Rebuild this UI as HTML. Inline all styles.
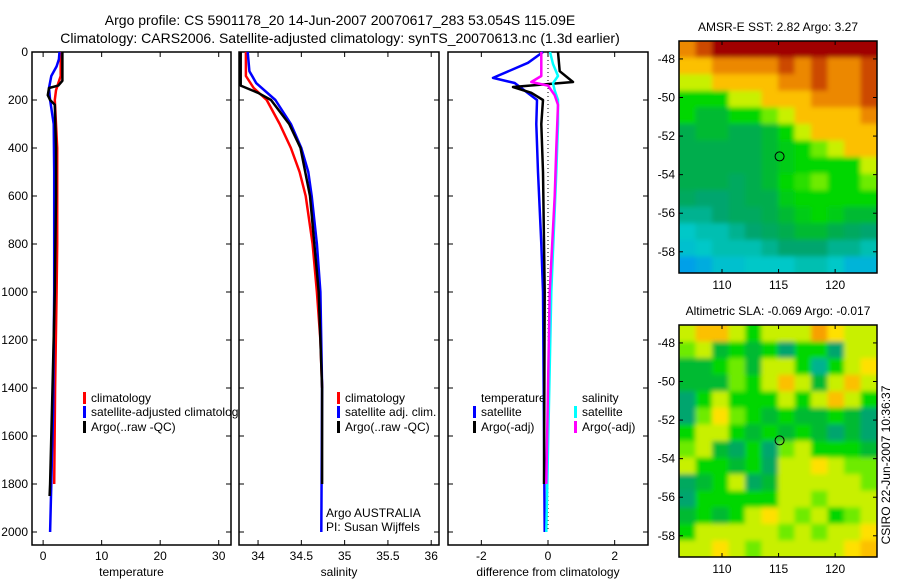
<!DOCTYPE html>
<html><head><meta charset="utf-8"><style>
body{margin:0;background:#fff;width:900px;height:580px;overflow:hidden}
svg{font-family:"Liberation Sans",sans-serif}
</style></head><body>
<svg id="s" width="900" height="580" xmlns="http://www.w3.org/2000/svg">
<defs>
<filter id="bl" filterUnits="userSpaceOnUse" x="670" y="30" width="220" height="540"><feGaussianBlur stdDeviation="2.5"/></filter>
<clipPath id="c1"><rect x="679" y="41" width="198" height="232"/></clipPath>
<clipPath id="c2"><rect x="679" y="325" width="198" height="232"/></clipPath>
</defs>
<text x="340" y="25" font-size="14" text-anchor="middle">Argo profile: CS 5901178_20 14-Jun-2007 20070617_283 53.054S 115.09E</text>
<text x="340" y="43" font-size="14" text-anchor="middle">Climatology: CARS2006. Satellite-adjusted climatology: synTS_20070613.nc (1.3d earlier)</text>
</svg>
<script>
// ---- data ----
const depthTicks=[0,200,400,600,800,1000,1200,1400,1600,1800,2000];
const tempTicks=[0,10,20,30];
const salTicks=[34,34.5,35,35.5,36];
const diffTicks=[-2,0,2];
const tClimD=[0,100,130,160,200,300,400,600,800,1000,1400,1800];
const tClimV=[3.0,3.0,2.6,2.2,2.0,2.2,2.4,2.4,2.4,2.3,2.05,1.9];
const tSatD=[0,30,60,100,150,200,300,500,1000,1500,2000];
const tSatV=[2.8,2.7,2.3,1.4,1.0,1.2,1.8,1.9,1.9,1.7,1.2];
const tArgoD=[0,120,140,150,180,200,220,400,600,1000,1400,1800,1850];
const tArgoV=[3.3,3.3,2.6,1.0,0.8,1.2,2.0,2.2,2.2,2.0,1.6,1.2,1.1];
const sClimD=[0,100,150,200,300,400,500,600,800,1000,1200,1400];
const sClimV=[33.86,33.86,33.95,34.1,34.25,34.38,34.48,34.55,34.63,34.68,34.72,34.74];
const sSatD=[0,80,130,200,300,400,500,600,800,1000,1400,2000];
const sSatV=[33.88,33.9,33.98,34.2,34.38,34.5,34.58,34.62,34.68,34.72,34.74,34.73];
const sArgoD=[0,140,170,200,300,400,600,1000,1400,1800];
const sArgoV=[33.80,33.80,34.0,34.15,34.36,34.49,34.6,34.7,34.74,34.74];
const dTSatD=[0,45,108,129,200,300,500,800,1000,2000];
const dTSatV=[-0.15,-0.6,-1.65,-1.0,-0.33,-0.35,-0.3,-0.2,-0.15,-0.1];
const dTArgoD=[0,80,125,146,170,200,300,500,1000,1800];
const dTArgoV=[0.3,0.35,0.75,-1.05,-0.5,-0.15,-0.2,-0.15,-0.1,-0.12];
const dSSatD=[0,50,100,130,160,200,300,500,1000,2000];
const dSSatV=[0.06,0.15,0.3,0.15,0.2,0.3,0.3,0.25,0.1,-0.05];
const dSArgoD=[0,100,125,140,180,220,400,600,1000,1400,1800];
const dSArgoV=[-0.2,-0.2,-0.5,0.0,0.2,0.3,0.25,0.2,0.05,0.0,-0.05];
const lonTicks=[110,115,120];
const latTicks=[-48,-50,-52,-54,-56,-58];
const argoLon=115.09, argoLat=-53.054;
const sst=[
[8,9,10,10,10,10,10,10,10,10,10,10],
[7,7,8,8,8,8,9,8,9,8,8,9],
[6,6,7,7,7,7,8,8,9,8,8,9],
[5,5,5,6,6,7,7,7,8,8,8,9],
[5,4.5,4.5,5,5,5.5,6,7,7,7,7,8],
[4.2,4.5,4.5,4.2,4.2,4.5,5,6,7,7,7,7],
[4.2,4.2,4.2,4.2,4.2,4.5,4.8,5,5.5,6,7,7],
[4.2,4.2,4.2,4.2,4.2,4.5,4.8,5,5,5,5,6],
[4.2,4.2,4.2,4,4.2,4.5,5,5.2,5.5,5,5,5.5],
[4,3.8,3.8,4,4.2,4.2,4.8,5,5,5,5,5],
[3.5,3.5,3.8,4,4,4.2,4.5,4.8,5,4.8,4.5,4.5],
[3,3.2,3.2,3.5,3.8,4,4.2,4.5,4.5,4.2,4,3.8],
[2.8,3,3.2,3.2,3.2,3.5,3.8,3.8,3.8,3.5,3.5,3.2],
[2,2.3,2.8,2.8,3,3,3,3.2,3.2,3,2.5,2.5]];
const sla=[
[6,7,7,6,5,6,6,6,7.5,6.5,6,6],
[5.5,6,4.5,5,4.5,5,3.8,5,5,3.8,6,6],
[4.5,4.5,5,5.5,4.5,6,6,5,3.5,5,6,6.5],
[4.5,4.5,4.5,5.5,5,6,7,6,4.5,6,7,6],
[3.8,5,6,5,5,5,6,5,6,7,6,5],
[3.8,5.5,6.5,5.5,5,4.5,5,4.5,4.5,5,4.5,3.8],
[5,6,6,5,4.5,5,4.5,5,4.5,3.8,4.5,3.8],
[5.5,6,4.5,4,5,3.8,5.5,6,5,5,5,4.5],
[6,5,5,4.5,5,4,6,6,6.5,6,5.5,5.5],
[4,4.5,5,6,4,4.5,6,6,6,6,6,5.5],
[3.8,5,5,5,5,5,6,6,5.5,6,6,6],
[4.5,5,4.5,5,6,6.5,6,5.5,6,5,5.5,6],
[5,6,6,6,6,6,5.5,6,5.5,6,6,6.5],
[6,6,6.5,6,5.5,6,6,6,6,6,6.5,7]];
// ---- drawing ----
const S=document.getElementById('s'),NS='http://www.w3.org/2000/svg';
function mk(t,a,p){const e=document.createElementNS(NS,t);for(const k in a)e.setAttribute(k,a[k]);(p||S).appendChild(e);return e;}
const yTop=52,yBot=545;
const yD=d=>yTop+d*0.24;
const panels=[
 {x0:32,x1:231,min:-1.9,max:32.1,ticks:tempTicks,label:'temperature',name:'temperature-panel'},
 {x0:239,x1:439,min:33.78,max:36.09,ticks:salTicks,label:'salinity',name:'salinity-panel'},
 {x0:448,x1:648,min:-3,max:3,ticks:diffTicks,label:'difference from climatology',name:'difference-panel'}];
panels.forEach(p=>p.sx=v=>p.x0+(v-p.min)/(p.max-p.min)*(p.x1-p.x0));
function line(p,D,V,col,name){
  const pts=D.map((d,i)=>p.sx(V[i]).toFixed(1)+','+yD(d).toFixed(1)).join(' ');
  const e=mk('polyline',{points:pts,fill:'none',stroke:col,'stroke-width':2.5,'stroke-linejoin':'round'});
  
  
}
function legend(x,y,col,txt,name){
  const g=mk('g',{});
  
  
  mk('rect',{x:x,y:y-10,width:3,height:12,fill:col},g);
  const t=mk('text',{x:x+8,y:y,'font-size':12},g);t.textContent=txt;
}
panels.forEach((p,pi)=>{
  const r=mk('rect',{x:p.x0,y:yTop,width:p.x1-p.x0,height:yBot-yTop,fill:'#fff',stroke:'#000','stroke-width':1.5});
  
  
  p.ticks.forEach(v=>{
    const x=p.sx(v);
    mk('line',{x1:x,x2:x,y1:yTop,y2:yTop+5,stroke:'#000'});
    mk('line',{x1:x,x2:x,y1:yBot,y2:yBot-5,stroke:'#000'});
    const t=mk('text',{x:x,y:yBot+15,'font-size':12,'text-anchor':'middle'});t.textContent=v;
    
    
  });
  depthTicks.forEach(d=>{
    const y=yD(d);
    mk('line',{x1:p.x0,x2:p.x0+5,y1:y,y2:y,stroke:'#000'});
    mk('line',{x1:p.x1,x2:p.x1-5,y1:y,y2:y,stroke:'#000'});
    if(pi==0){const t=mk('text',{x:28,y:y+4,'font-size':12,'text-anchor':'end'});t.textContent=d;
      
      }
  });
  const t=mk('text',{x:(p.x0+p.x1)/2,y:576,'font-size':12,'text-anchor':'middle'});t.textContent=p.label;
  
  
  if(pi==0){
    line(p,tClimD,tClimV,'#f00','temp-climatology-line');
    line(p,tSatD,tSatV,'#00f','temp-satellite-line');
    line(p,tArgoD,tArgoV,'#000','temp-argo-line');
    legend(83,402,'#f00','climatology','legend-climatology');
    legend(83,416,'#00f','satellite-adjusted climatology','legend-satellite');
    legend(83,431,'#000','Argo(..raw -QC)','legend-argo');
  } else if(pi==1){
    line(p,sClimD,sClimV,'#f00','sal-climatology-line');
    line(p,sSatD,sSatV,'#00f','sal-satellite-line');
    line(p,sArgoD,sArgoV,'#000','sal-argo-line');
    legend(337,402,'#f00','climatology','legend-climatology');
    legend(337,416,'#00f','satellite adj. clim.','legend-satellite');
    legend(337,431,'#000','Argo(..raw -QC)','legend-argo');
    const a=mk('text',{x:326,y:517,'font-size':12});a.textContent='Argo AUSTRALIA';
    
    const b=mk('text',{x:326,y:531,'font-size':12});b.textContent='PI: Susan Wijffels';
    
  } else {
    const z=mk('line',{x1:p.sx(0),x2:p.sx(0),y1:yTop,y2:yD(2000),stroke:'#000','stroke-dasharray':'1,3'});
    
    line(p,dTSatD,dTSatV,'#00f','diff-temp-satellite-line');
    line(p,dTArgoD,dTArgoV,'#000','diff-temp-argo-line');
    line(p,dSSatD,dSSatV,'#0ff','diff-sal-satellite-line');
    line(p,dSArgoD,dSArgoV,'#f0f','diff-sal-argo-line');
    const a=mk('text',{x:481,y:402,'font-size':12});a.textContent='temperature';
    
    const b=mk('text',{x:582,y:402,'font-size':12});b.textContent='salinity';
    
    legend(473,416,'#00f','satellite','legend-temp-satellite');
    legend(473,431,'#000','Argo(-adj)','legend-temp-argo');
    legend(574,416,'#0ff','satellite','legend-sal-satellite');
    legend(574,431,'#f0f','Argo(-adj)','legend-sal-argo');
  }
});
// colormap
const stops=[[0,[0,80,224]],[2,[0,160,232]],[3,[0,200,200]],[3.8,[0,165,110]],[4.3,[0,175,70]],[5,[0,215,0]],[5.5,[110,235,0]],[6,[200,240,0]],[6.5,[255,224,0]],[7.5,[248,160,0]],[8.5,[224,112,0]],[9.3,[192,48,0]],[10,[160,0,0]]];
function cmap(v){for(let i=1;i<stops.length;i++){if(v<=stops[i][0]){const a=stops[i-1],b=stops[i],t=(v-a[0])/(b[0]-a[0]);return 'rgb('+a[1].map((c,k)=>Math.round(c+(b[1][k]-c)*t)).join(',')+')';}}return 'rgb(160,0,0)';}
function map(grid,y0,title,clip,name){
  const x0=679,x1=877,y1=y0+232,lonMin=106.2,lonMax=123.7,latTop=-47.07,latBot=-59.1;
  const sx=l=>x0+(l-lonMin)/(lonMax-lonMin)*(x1-x0), sy=l=>y0+(l-latTop)/(latBot-latTop)*(y1-y0);
  const g=mk('g',{'clip-path':'url(#'+clip+')'});
  
  
  const gi=mk('g',{filter:'url(#bl)'},g);
  const nr=grid.length,nc=grid[0].length,cw=(x1-x0)/nc,ch=(y1-y0)/nr;
  grid.forEach((row,r)=>row.forEach((v,c)=>{
    const e=mk('rect',{x:x0+c*cw-(c==0?6:0),y:y0+r*ch-(r==0?6:0),width:cw+0.5+(c==0||c==nc-1?6:0),height:ch+0.5+(r==0||r==nr-1?6:0),fill:cmap(v)},gi);
    
    
  }));
  const fr=mk('rect',{x:x0,y:y0,width:x1-x0,height:y1-y0,fill:'none',stroke:'#000','stroke-width':1.5});
  
  lonTicks.forEach(l=>{const x=sx(l);mk('line',{x1:x,x2:x,y1:y0,y2:y0+4,stroke:'#000'});mk('line',{x1:x,x2:x,y1:y1,y2:y1-4,stroke:'#000'});
    const t=mk('text',{x:x,y:y1+16,'font-size':12,'text-anchor':'middle'});t.textContent=l;
    });
  latTicks.forEach(l=>{const y=sy(l);mk('line',{x1:x0,x2:x0+4,y1:y,y2:y,stroke:'#000'});mk('line',{x1:x1,x2:x1-4,y1:y,y2:y,stroke:'#000'});
    const t=mk('text',{x:x0-4,y:y+4,'font-size':12,'text-anchor':'end'});t.textContent=l;
    });
  const c=mk('circle',{cx:sx(argoLon),cy:sy(argoLat),r:4.5,fill:'none',stroke:'#000','stroke-width':1});
  
  const t=mk('text',{x:778,y:y0-10,'font-size':12,'text-anchor':'middle'});t.textContent=title;
  
}
map(sst,41,'AMSR-E SST: 2.82 Argo: 3.27','c1','sst-map');
map(sla,325,'Altimetric SLA: -0.069 Argo: -0.017','c2','sla-map');
const st=mk('text',{x:0,y:0,'font-size':12,'text-anchor':'middle',transform:'translate(890,465) rotate(-90)'});st.textContent='CSIRO 22-Jun-2007 10:36:37';


</script>
</body></html>
